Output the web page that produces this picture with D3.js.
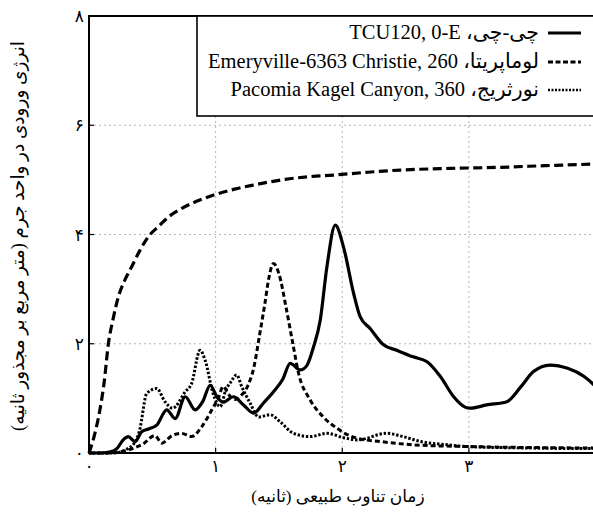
<!DOCTYPE html>
<html><head><meta charset="utf-8">
<script src="https://cdn.jsdelivr.net/npm/d3@7"></script>
<style>body{margin:0;background:#fff;overflow:hidden}</style>
</head><body><svg id="c" width="593" height="515"></svg>
<script>
// ---- data ----
const chiT = [0,0.1,0.17,0.22,0.27,0.31,0.364,0.416,0.47,0.535,0.614,0.68,0.76,0.838,0.9,0.957,1.01,1.06,1.14,1.22,1.30,1.38,1.457,1.53,1.589,1.668,1.72,1.773,1.826,1.879,1.945,2.01,2.09,2.142,2.22,2.326,2.43,2.56,2.67,2.775,2.88,2.97,3.01,3.14,3.30,3.41,3.51,3.64,3.78,3.91,4.0];
const chiV = [0,0,0.02,0.08,0.24,0.30,0.21,0.39,0.44,0.51,0.79,0.63,1.03,0.79,0.95,1.24,1.03,0.93,1.03,0.88,0.73,0.92,1.12,1.35,1.64,1.52,1.6,1.94,2.43,3.41,4.17,3.77,2.92,2.49,2.28,1.98,1.88,1.76,1.67,1.40,1.03,0.84,0.82,0.88,0.94,1.21,1.49,1.61,1.55,1.40,1.22];

const lomaT = [0,0.15,0.30,0.43,0.52,0.575,0.65,0.73,0.81,0.89,0.97,1.02,1.06,1.10,1.15,1.2,1.25,1.30,1.35,1.39,1.42,1.457,1.50,1.56,1.61,1.655,1.747,1.85,1.96,2.02,2.12,2.30,2.56,2.96,3.5,4.0];
const lomaV = [0,0,0.05,0.17,0.32,0.18,0.31,0.36,0.30,0.48,0.79,1.0,1.22,1.08,0.98,1.05,1.21,1.55,2.2,2.75,3.2,3.47,3.28,2.62,2.0,1.46,0.97,0.66,0.45,0.36,0.27,0.21,0.15,0.12,0.1,0.09];

const northT = [0,0.2,0.28,0.364,0.40,0.456,0.535,0.60,0.66,0.76,0.81,0.877,0.917,0.98,1.036,1.08,1.12,1.165,1.207,1.273,1.34,1.43,1.51,1.615,1.747,1.88,2.01,2.12,2.35,2.48,2.62,2.83,2.97,3.5,4.0];
const northV = [0,0,0.05,0.2,0.42,1.09,1.18,0.94,0.82,1.12,1.27,1.88,1.70,1.09,0.85,1.15,1.3,1.43,1.21,0.91,0.66,0.70,0.57,0.36,0.30,0.36,0.28,0.24,0.36,0.30,0.21,0.15,0.12,0.09,0.08];

const upperT = [0,0.04,0.087,0.12,0.153,0.19,0.232,0.28,0.337,0.40,0.469,0.55,0.627,0.72,0.812,0.92,1.022,1.15,1.286,1.42,1.55,1.75,1.945,2.2,2.46,2.85,3.25,3.6,4.0];
const upperV = [0,0.3,0.8,1.3,2.0,2.45,2.86,3.15,3.41,3.7,3.96,4.15,4.32,4.46,4.57,4.67,4.75,4.83,4.90,4.96,5.01,5.06,5.09,5.14,5.18,5.21,5.23,5.26,5.29];

const xTicks = [0,1,2,3];
const xTickLabels = ["۰","۱","۲","۳"];
const yTicks = [0,2,4,6,8];
const yTickLabels = ["۰","۲","۴","۶","۸"];
const legendLabels = ["چی-چی، TCU120, 0-E","لوماپریتا، Emeryville-6363 Christie, 260","نورثریج، Pacomia Kagel Canyon, 360"];
const xTitle = "زمان تناوب طبیعی (ثانیه)";
const yTitle = "انرژی ورودی در واحد جرم (متر مربع بر مجذور ثانیه)";

// ---- drawing ----
const svg = d3.select("#c");
const FONT = "'Liberation Serif','DejaVu Sans',serif";
const x = d3.scaleLinear().domain([0,4]).range([89,595.5]);
const y = d3.scaleLinear().domain([0,8]).range([453,16]);

// grid
const g = svg.append("g");
g.selectAll(".gx").data(xTicks.slice(1)).enter().append("line")
  .attr("x1",d=>x(d)).attr("x2",d=>x(d)).attr("y1",y(0)).attr("y2",y(8))
  .attr("stroke","#b5b5b5").attr("stroke-width",1).attr("stroke-dasharray","2,3");
g.selectAll(".gy").data(yTicks.slice(1,4)).enter().append("line")
  .attr("x1",x(0)).attr("x2",x(4)).attr("y1",d=>y(d)).attr("y2",d=>y(d))
  .attr("stroke","#b5b5b5").attr("stroke-width",1).attr("stroke-dasharray","2,3");

// curves
const mk = (T,V)=>T.map((t,i)=>[t,V[i]]);
const line = d3.line().x(d=>x(d[0])).y(d=>y(d[1])).curve(d3.curveMonotoneX);
svg.append("path").datum(mk(upperT,upperV)).attr("d",line).attr("fill","none")
  .attr("stroke","#000").attr("stroke-width",3.2).attr("stroke-dasharray","9,4.5");
svg.append("path").datum(mk(northT,northV)).attr("d",line).attr("fill","none")
  .attr("stroke","#000").attr("stroke-width",3).attr("stroke-dasharray","2.4,1.8");
svg.append("path").datum(mk(lomaT,lomaV)).attr("d",line).attr("fill","none")
  .attr("stroke","#000").attr("stroke-width",3).attr("stroke-dasharray","5,3");
svg.append("path").datum(mk(chiT,chiV)).attr("d",line).attr("fill","none")
  .attr("stroke","#000").attr("stroke-width",3.2);

// frame / axes
svg.append("line").attr("x1",x(0)).attr("x2",x(0)).attr("y1",y(0)+1).attr("y2",y(8)-1).attr("stroke","#000").attr("stroke-width",2);
svg.append("line").attr("x1",x(0)-1).attr("x2",600).attr("y1",y(0)).attr("y2",y(0)).attr("stroke","#000").attr("stroke-width",2.2);
svg.append("line").attr("x1",x(0)-1).attr("x2",600).attr("y1",y(8)).attr("y2",y(8)).attr("stroke","#000").attr("stroke-width",1.8);

// ticks
svg.selectAll(".tx").data(xTicks.slice(1)).enter().append("line")
  .attr("x1",d=>x(d)).attr("x2",d=>x(d)).attr("y1",y(0)).attr("y2",y(0)-5).attr("stroke","#000").attr("stroke-width",1.2);
svg.selectAll(".ty").data(yTicks.slice(1)).enter().append("line")
  .attr("x1",x(0)).attr("x2",x(0)+5).attr("y1",d=>y(d)).attr("y2",d=>y(d)).attr("stroke","#000").attr("stroke-width",1.2);

svg.selectAll(".lx").data(xTicks).enter().append("text")
  .attr("x",d=>x(d)).attr("y",y(0)+19).attr("text-anchor","middle")
  .attr("font-family",FONT).attr("font-size",17).text((d,i)=>xTickLabels[i]);
svg.selectAll(".ly").data(yTicks).enter().append("text")
  .attr("x",x(0)-5).attr("y",d=>y(d)+6).attr("text-anchor","end")
  .attr("font-family",FONT).attr("font-size",17).text((d,i)=>yTickLabels[i]);

// titles
svg.append("text").attr("x",338).attr("y",502).attr("text-anchor","middle").attr("direction","rtl")
  .attr("font-family",FONT).attr("font-size",17).text(xTitle);
svg.append("text").attr("transform","translate(24,236) rotate(-90)").attr("text-anchor","middle").attr("direction","rtl")
  .attr("font-family",FONT).attr("font-size",18.5).text(yTitle);

// legend
const lg = svg.append("g");
lg.append("rect").attr("x",197).attr("y",16).attr("width",420).attr("height",100)
  .attr("fill","#fff").attr("stroke","#000").attr("stroke-width",1.6);
const rowsY = [33,62,90];
const dashes = [null,"5,2.5","2,1.5"];
legendLabels.forEach((lab,i)=>{
  const l = lg.append("line").attr("x1",548).attr("x2",581).attr("y1",rowsY[i]).attr("y2",rowsY[i])
    .attr("stroke","#000").attr("stroke-width",i===2?2.6:3);
  if(dashes[i]) l.attr("stroke-dasharray",dashes[i]);
  lg.append("text").attr("x",539).attr("y",rowsY[i]+6).attr("direction","rtl").attr("text-anchor","start")
    .attr("font-family",FONT).attr("font-size",20.5).text(lab);
});
</script></body></html>
